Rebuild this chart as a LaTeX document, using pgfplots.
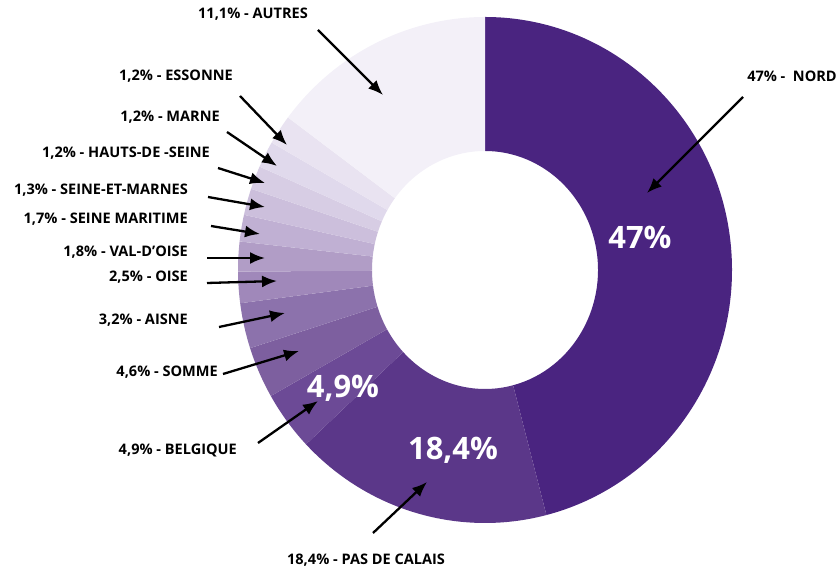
\documentclass[border=0pt]{standalone}
\usepackage{pgfplots}
\pgfplotsset{compat=1.18}
\usepackage{pgfplotstable}
\usepackage{fontspec}
\setmainfont{Open Sans}
\usetikzlibrary{arrows.meta}
\definecolor{c0}{RGB}{74,36,128}
\definecolor{c1}{RGB}{91,55,137}
\definecolor{c2}{RGB}{108,74,150}
\definecolor{c3}{RGB}{125,95,159}
\definecolor{c4}{RGB}{140,114,172}
\definecolor{c5}{RGB}{160,136,186}
\definecolor{c6}{RGB}{177,157,198}
\definecolor{c7}{RGB}{192,176,211}
\definecolor{c8}{RGB}{204,191,220}
\definecolor{c9}{RGB}{215,205,228}
\definecolor{c10}{RGB}{224,217,236}
\definecolor{c11}{RGB}{233,227,241}
\definecolor{c12}{RGB}{243,240,248}
% share = angular share of the ring as drawn (percent), value = labelled percent
\pgfplotstableread{
name share value
NORD 46.0 47
PASDECALAIS 16.9 18.4
BELGIQUE 3.8 4.9
SOMME 3.3 4.6
AISNE 2.9 3.2
OISE 2.0 2.5
VALDOISE 1.9 1.8
SEINEMARITIME 1.7 1.7
SEINEETMARNES 1.7 1.3
HAUTSDESEINE 1.5 1.2
MARNE 1.7 1.2
ESSONNE 1.9 1.2
AUTRES 14.7 11.1
}\slices
\tikzset{lab/.style={font=\fontsize{14.6}{16}\selectfont\bfseries, inner sep=0pt},
  big/.style={font=\fontsize{31}{33}\selectfont\bfseries, text=white, inner sep=0pt},
  arr/.style={line width=2.3bp, -{Latex[length=15bp,width=12bp]}}}
\begin{document}
\begin{tikzpicture}
\begin{axis}[
  width=838bp, height=571bp, scale only axis,
  xmin=0, xmax=838, ymin=0, ymax=571,
  hide axis, clip=false,
]
\coordinate (bl) at (axis cs:0,0);
\coordinate (tr) at (axis cs:838,571);
\pgfplotstablegetrowsof{\slices}
\pgfmathtruncatemacro\N{\pgfplotsretval-1}
\def\cum{90}
\pgfplotsforeachungrouped \i in {0,...,\N}{%
  \pgfplotstablegetelem{\i}{share}\of\slices
  \pgfmathsetmacro\angB{\cum-3.6*\pgfplotsretval}%
  \pgfmathsetmacro\xa{485+247*cos(\cum)}%
  \pgfmathsetmacro\ya{301+253*sin(\cum)}%
  \pgfmathsetmacro\xb{485+113*cos(\angB)}%
  \pgfmathsetmacro\yb{301+119*sin(\angB)}%
  \edef\temp{\noexpand\fill[c\i] (axis cs:\xa,\ya) arc[start angle=\cum, end angle=\angB, x radius=247bp, y radius=253bp] -- (axis cs:\xb,\yb) arc[start angle=\angB, end angle=\cum, x radius=113bp, y radius=119bp] -- cycle;}%
  \temp
  \let\cum\angB
}
% big labels
\node[big] at (axis cs:640,334) {47\%};
\node[big] at (axis cs:453,121) {18,4\%};
\node[big] at (axis cs:343,183) {4,9\%};
% outer labels
\node[lab] at (axis cs:253,557) {11,1\% - AUTRES};
\node[lab,anchor=east] at (axis cs:233,495) {1,2\% - ESSONNE};
\node[lab,anchor=east] at (axis cs:220,454) {1,2\% - MARNE};
\node[lab,anchor=east] at (axis cs:210,418) {1,2\% - HAUTS-DE -SEINE};
\node[lab,anchor=east] at (axis cs:188,381) {1,3\% - SEINE-ET-MARNES};
\node[lab,anchor=east] at (axis cs:188,352) {1,7\% - SEINE MARITIME};
\node[lab,anchor=east] at (axis cs:188,319) {1,8\% - VAL-D'OISE};
\node[lab,anchor=east] at (axis cs:188,294) {2,5\% - OISE};
\node[lab,anchor=east] at (axis cs:188,251) {3,2\% - AISNE};
\node[lab,anchor=east] at (axis cs:218,199) {4,6\% - SOMME};
\node[lab,anchor=east] at (axis cs:237,121) {4,9\% - BELGIQUE};
\node[lab] at (axis cs:366,11) {18,4\% - PAS DE CALAIS};
\node[lab] at (axis cs:792,495) {47\% -~~NORD};
% arrows
\draw[arr] (axis cs:318,541) -- (axis cs:383,476);
\draw[arr] (axis cs:240,475) -- (axis cs:287,426);
\draw[arr] (axis cs:227,439) -- (axis cs:277,405);
\draw[arr] (axis cs:218,403) -- (axis cs:265,388);
\draw[arr] (axis cs:208,374) -- (axis cs:265,364);
\draw[arr] (axis cs:211,345) -- (axis cs:260,337);
\draw[arr] (axis cs:207,313) -- (axis cs:265,313);
\draw[arr] (axis cs:207,288) -- (axis cs:277,290);
\draw[arr] (axis cs:219,244) -- (axis cs:285,258);
\draw[arr] (axis cs:223,197) -- (axis cs:299,220);
\draw[arr] (axis cs:258,128) -- (axis cs:318,170);
\draw[arr] (axis cs:373,38) -- (axis cs:427,89);
\draw[arr] (axis cs:743,474) -- (axis cs:647,378);
\end{axis}
\pgfresetboundingbox
\path[use as bounding box] (bl) rectangle (tr);
\end{tikzpicture}
\end{document}
